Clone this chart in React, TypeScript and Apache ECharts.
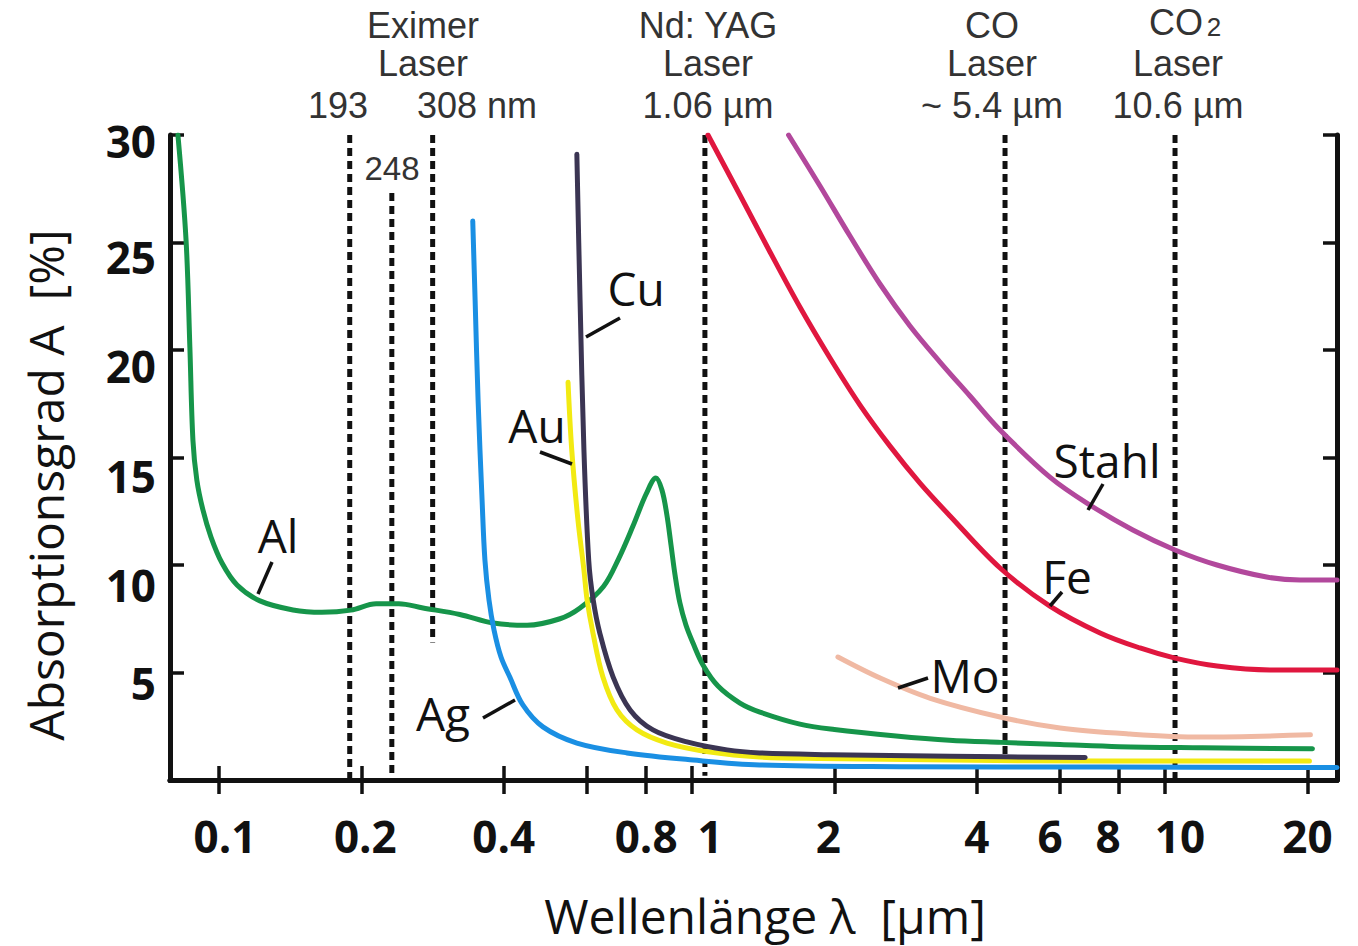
import React, { useEffect, useRef } from "react";
import * as echarts from "echarts";

// ---- axis ticks / labels ----
const xTickValues = [0.1, 0.2, 0.4, 0.6, 0.8, 1, 2, 4, 6, 8, 10, 20];
const xLabelValues = [0.1, 0.2, 0.4, 0.8, 1, 2, 4, 6, 8, 10, 20];
const yMin = 0;
const yMax = 30;
const yInterval = 5;
const xMin = 0.0788;
const xMax = 23.1;

// ---- absorption curves: [wavelength µm, absorptance %] ----
const alData = [
  [0.0819, 30], [0.0852, 25.12], [0.0868, 20.14], [0.0881, 15.81], [0.0898, 13.95], [0.0925, 12.56],
  [0.0962, 11.3], [0.1015, 10.09], [0.1092, 9.07], [0.1221, 8.33], [0.1434, 7.91], [0.165, 7.8],
  [0.19, 7.9], [0.215, 8.2], [0.24, 8.2], [0.27, 8.0], [0.323, 7.7], [0.38, 7.3], [0.448, 7.2],
  [0.526, 7.5], [0.58, 8.0], [0.65, 9.0], [0.7, 10.3], [0.75, 11.8], [0.8, 13.3], [0.839, 14.05],
  [0.864, 13.49], [0.885, 12.33], [0.903, 10.93], [0.921, 9.53], [0.943, 8.23], [0.971, 7.21],
  [1.005, 6.37], [1.055, 5.35], [1.135, 4.37], [1.263, 3.58], [1.392, 3.16], [1.691, 2.6],
  [2.0, 2.35], [2.7, 2.05], [3.5, 1.85], [4.5, 1.75], [6, 1.65], [8, 1.55], [12, 1.5], [20.5, 1.45],
];
const agData = [
  [0.344, 26], [0.348, 22.3], [0.353, 17.7], [0.36, 13.0], [0.365, 10.23], [0.3723, 8.37],
  [0.3815, 6.98], [0.3947, 5.72], [0.412, 4.79], [0.439, 3.49], [0.484, 2.47], [0.571, 1.72],
  [0.729, 1.26], [1.005, 0.93], [1.39, 0.7], [2.75, 0.62], [7.3, 0.6], [23.1, 0.58],
];
const auData = [
  [0.547, 18.5], [0.557, 15.35], [0.574, 12.1], [0.591, 9.77], [0.6, 8.4], [0.618, 6.8],
  [0.648, 4.8], [0.694, 3.26], [0.765, 2.33], [0.885, 1.72], [1.092, 1.3], [1.39, 1.07],
  [1.865, 1.0], [3.51, 0.93], [7.3, 0.88], [20.2, 0.88],
];
const cuData = [
  [0.571, 29.1], [0.58, 22.3], [0.591, 15.35], [0.605, 10.2], [0.618, 8.4], [0.639, 6.8],
  [0.681, 4.8], [0.74, 3.26], [0.827, 2.33], [0.976, 1.77], [1.186, 1.4], [1.39, 1.26],
  [1.96, 1.18], [3.51, 1.1], [6.78, 1.05],
];
const feData = [
  [1.081, 30], [1.263, 27.21], [1.462, 24.56], [1.691, 22.0], [1.958, 19.63], [2.266, 17.44],
  [2.622, 15.53], [3.034, 13.81], [3.512, 12.28], [4.48, 9.86], [5.71, 8.09], [7.29, 6.84],
  [8.854, 6.14], [10.5, 5.67], [12.88, 5.3], [16.67, 5.12], [23.1, 5.12],
];
const stahlData = [
  [1.6, 30], [1.865, 27.63], [2.158, 25.3], [2.497, 23.07], [2.89, 21.12], [3.345, 19.44],
  [3.87, 17.86], [4.48, 16.28], [5.71, 14.09], [6.94, 12.79], [8.55, 11.63], [10.5, 10.7],
  [12.88, 10.0], [16.4, 9.44], [19.3, 9.3], [23.1, 9.3],
];
const moData = [
  [2.035, 5.72], [2.5, 4.74], [3.19, 3.8], [4.48, 2.93], [6.0, 2.42], [8.43, 2.14],
  [11.9, 2.0], [20.3, 2.1],
];

// ---- laser wavelength markers (position on the drawn axis, top, bottom in %) ----
const laserNames = ["193 nm", "248 nm", "308 nm", "1.06 µm", "5.4 µm", "10.6 µm"];
const laserX = [0.189, 0.232, 0.283, 1.065, 4.59, 10.5];
const laserTop = [30, 27.3, 30, 30, 30, 30];
const laserBottom = [0, 0, 6.4, 0.2, 0.9, 0];

const curveNames = ["Al", "Ag", "Au", "Cu", "Fe", "Stahl", "Mo"];

export default function App() {
  const ref = useRef<HTMLDivElement>(null);
  useEffect(() => {
    if (!ref.current) return;
    const chart = echarts.init(ref.current, undefined, { renderer: "svg" });

    const black = "#111";
    const fmt = (v: number) => String(Number(Number(v).toPrecision(3)));
    const lblFont = "'Open Sans', 'DejaVu Sans', sans-serif";

    // horizontal nudges of tick labels (as in the printed figure)
    const xShift: Record<string, string> = {
      "0.1": "r6", "0.2": "r4", "1": "r18", "2": "l6", "6": "l10", "8": "l11", "10": "r15",
    };
    const tickFontBase = { fontFamily: lblFont, fontWeight: "bold", fontSize: 44, color: black };
    const xRich: Record<string, any> = { n: { ...tickFontBase } };
    [4, 6, 10, 11, 15, 18].forEach((s) => {
      xRich["r" + s] = { ...tickFontBase, padding: [0, 0, 0, 2 * s] };
      xRich["l" + s] = { ...tickFontBase, padding: [0, 2 * s, 0, 0] };
    });
    const yShift: Record<string, number> = { "30": 6, "25": 14, "20": 16, "15": 18, "10": 20, "5": 10 };
    const yRich: Record<string, any> = {};
    Object.keys(yShift).forEach((k) => {
      yRich["y" + k] = { ...tickFontBase, padding: [2 * yShift[k], 0, 0, 0] };
    });

    const curve = (name: string, data: number[][], color: string) => ({
      type: "line",
      name,
      data,
      showSymbol: false,
      symbol: "none",
      smooth: 0.35,
      clip: true,
      z: 5,
      lineStyle: { color, width: 5, cap: "round", join: "round" },
    });

    const laserSeries = laserX.map((x, i) => ({
      type: "line",
      name: laserNames[i],
      data: [
        [x, laserTop[i]],
        [x, laserBottom[i]],
      ],
      showSymbol: false,
      symbol: "none",
      z: 3,
      lineStyle: { color: black, width: 5, type: [8, 5] },
    }));

    const ann = "#333";
    const annFont = "'Liberation Sans', Arial, sans-serif";
    const topText = (text: string, x: number, y: number, size = 36) => ({
      type: "text",
      x,
      y,
      style: {
        text,
        fill: ann,
        font: `${size}px ${annFont}`,
        textAlign: "center",
        textVerticalAlign: "middle",
      },
    });
    const curveLabel = (text: string, x: number, y: number) => ({
      type: "text",
      x,
      y,
      z: 20,
      style: {
        text,
        fill: black,
        font: `46px ${lblFont}`,
        textAlign: "center",
        textVerticalAlign: "middle",
      },
    });
    const leader = (x1: number, y1: number, x2: number, y2: number) => ({
      type: "line",
      z: 20,
      shape: { x1, y1, x2, y2 },
      style: { stroke: black, lineWidth: 3.5 },
    });

    chart.setOption({
      animation: false,
      backgroundColor: "#fff",
      grid: { left: 170, top: 135, right: 21, bottom: 166, containLabel: false },
      xAxis: [
        {
          type: "log",
          logBase: 10,
          min: xMin,
          max: xMax,
          position: "bottom",
          axisLine: { show: true, lineStyle: { color: black, width: 5 } },
          axisTick: {
            show: true,
            inside: true,
            length: 14,
            lineStyle: { color: black, width: 3.5 },
            customValues: xTickValues,
          },
          minorTick: { show: false },
          splitLine: { show: false },
          axisLabel: {
            customValues: xLabelValues,
            formatter: (v: number) => {
              const s = fmt(v);
              const k = xShift[s] || "n";
              return `{${k}|${s}}`;
            },
            rich: xRich,
            color: black,
            fontFamily: lblFont,
            fontWeight: "bold",
            fontSize: 44,
            margin: 34,
          },
        },
        {
          type: "log",
          logBase: 10,
          min: xMin,
          max: xMax,
          position: "top",
          axisLine: { show: true, lineStyle: { color: black, width: 5 } },
          axisTick: {
            show: true,
            inside: true,
            length: 14,
            lineStyle: { color: black, width: 3.5 },
            customValues: xTickValues,
          },
          minorTick: { show: false },
          splitLine: { show: false },
          axisLabel: { show: false },
        },
      ],
      yAxis: [
        {
          type: "value",
          min: yMin,
          max: yMax,
          interval: yInterval,
          position: "left",
          axisLine: { show: true, lineStyle: { color: black, width: 5 } },
          axisTick: { show: true, inside: true, length: 14, lineStyle: { color: black, width: 3.5 } },
          splitLine: { show: false },
          axisLabel: {
            formatter: (v: number) => (v === 0 ? "" : `{y${v}|${v}}`),
            rich: yRich,
            color: black,
            fontFamily: lblFont,
            fontWeight: "bold",
            fontSize: 44,
            margin: 14,
          },
        },
        {
          type: "value",
          min: yMin,
          max: yMax,
          interval: yInterval,
          position: "right",
          axisLine: { show: true, lineStyle: { color: black, width: 5 } },
          axisTick: { show: true, inside: true, length: 14, lineStyle: { color: black, width: 3.5 } },
          splitLine: { show: false },
          axisLabel: { show: false },
        },
      ],
      series: [
        ...laserSeries,
        curve(curveNames[0], alData, "#16954a"),
        curve(curveNames[1], agData, "#1a8fe3"),
        curve(curveNames[2], auData, "#f2ea12"),
        curve(curveNames[3], cuData, "#3b3553"),
        curve(curveNames[4], feData, "#e0173f"),
        curve(curveNames[5], stahlData, "#b2489c"),
        curve(curveNames[6], moData, "#f0b9a3"),
      ],
      graphic: [
        topText("Eximer", 423, 25),
        topText("Laser", 423, 63),
        topText("193", 338, 105),
        topText("308 nm", 477, 105),
        { ...topText("248", 392, 168, 33), z: 20 },
        topText("Nd: YAG", 708, 25),
        topText("Laser", 708, 63),
        topText("1.06 µm", 708, 105),
        topText("CO", 992, 25),
        topText("Laser", 992, 63),
        topText("~ 5.4 µm", 992, 105),
        topText("CO", 1176, 22),
        topText("2", 1214, 27, 26),
        topText("Laser", 1178, 63),
        topText("10.6 µm", 1178, 105),
        curveLabel("Al", 278, 535),
        leader(258, 594, 272, 562),
        curveLabel("Cu", 636, 288),
        leader(586, 337, 620, 318),
        curveLabel("Au", 537, 425),
        leader(540, 452, 572, 464),
        curveLabel("Ag", 443, 713),
        leader(483, 718, 515, 700),
        curveLabel("Stahl", 1107, 460),
        leader(1088, 510, 1103, 484),
        curveLabel("Fe", 1067, 576),
        leader(1050, 606, 1062, 592),
        curveLabel("Mo", 965, 675),
        leader(898, 688, 928, 678),
        {
          type: "text",
          x: 45,
          y: 485,
          rotation: Math.PI / 2,
          style: {
            text: "Absorptionsgrad A  [%]",
            fill: black,
            font: `48px ${lblFont}`,
            textAlign: "center",
            textVerticalAlign: "middle",
          },
        },
        {
          type: "text",
          x: 765,
          y: 915,
          style: {
            text: "Wellenlänge λ  [µm]",
            fill: black,
            font: `48px ${lblFont}`,
            textAlign: "center",
            textVerticalAlign: "middle",
          },
        },
      ],
    });
    return () => chart.dispose();
  }, []);

  return (
    <div
      ref={ref}
      style={{ position: "absolute", left: 0, top: 0, width: 1358, height: 946, background: "#fff" }}
    />
  );
}
